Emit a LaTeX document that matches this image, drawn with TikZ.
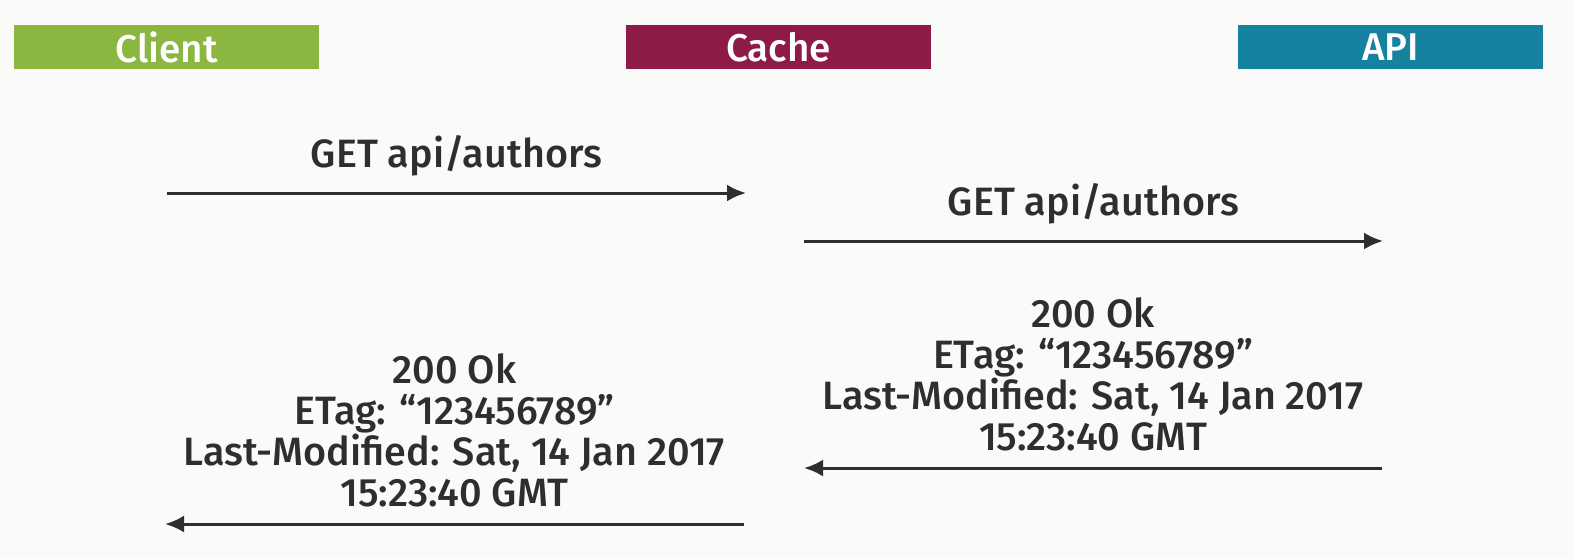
\documentclass[tikz,border=0pt]{standalone}
\usepackage{fontspec}
\setmainfont{Open Sans}
\newfontfamily\diagfont{Fira Sans}[UprightFont={* Medium}]
\usetikzlibrary{positioning, arrows.meta}
\definecolor{bgcol}{HTML}{FAFAF8}
\definecolor{clientcol}{HTML}{8BB63F}
\definecolor{cachecol}{HTML}{8E1A47}
\definecolor{apicol}{HTML}{15829F}
\definecolor{inkcol}{HTML}{2E2E2E}

\begin{document}
\begin{tikzpicture}[party/.style={minimum width=3.05cm, minimum height=0.44cm,
                      inner sep=0pt, text=white, font=\diagfont\fontsize{11}{12}\selectfont},
                    msg/.style={draw=inkcol, line width=0.85pt, -{Latex[length=1.9mm,width=1.7mm]}},
                    lbl/.style={text=inkcol, align=center, inner sep=0.15cm,
                      font=\diagfont\fontsize{11.25}{11.75}\selectfont}]
\fill[bgcol] (0,0) rectangle (15.74,-5.59);
\useasboundingbox (0,0) rectangle (15.74,-5.59);
% participants
\node[party, fill=clientcol] (client) at (1.665,-0.47) {Client};
\node[party, fill=cachecol] (cache) at (7.785,-0.47) {Cache};
\node[party, fill=apicol] (api) at (13.905,-0.47) {API};
% message ends
\coordinate (req1s) at (1.67,-1.93);
\coordinate (req1e) at (7.46,-1.93);
\coordinate (req2s) at (8.04,-2.41);
\coordinate (req2e) at (13.83,-2.41);
\coordinate (res1s) at (13.82,-4.68);
\coordinate (res1e) at (8.04,-4.68);
\coordinate (res2s) at (7.44,-5.24);
\coordinate (res2e) at (1.65,-5.24);
% messages
\draw[msg] (req1s) -- node[lbl, above] {GET api/authors} (req1e);
\draw[msg] (req2s) -- node[lbl, above] {GET api/authors} (req2e);
\draw[msg] (res1s) -- node[lbl, above] {200 Ok\\ETag: “123456789”\\Last-Modified: Sat, 14 Jan 2017\\15:23:40 GMT} (res1e);
\draw[msg] (res2s) -- node[lbl, above] {200 Ok\\ETag: “123456789”\\Last-Modified: Sat, 14 Jan 2017\\15:23:40 GMT} (res2e);
\end{tikzpicture}
\end{document}
